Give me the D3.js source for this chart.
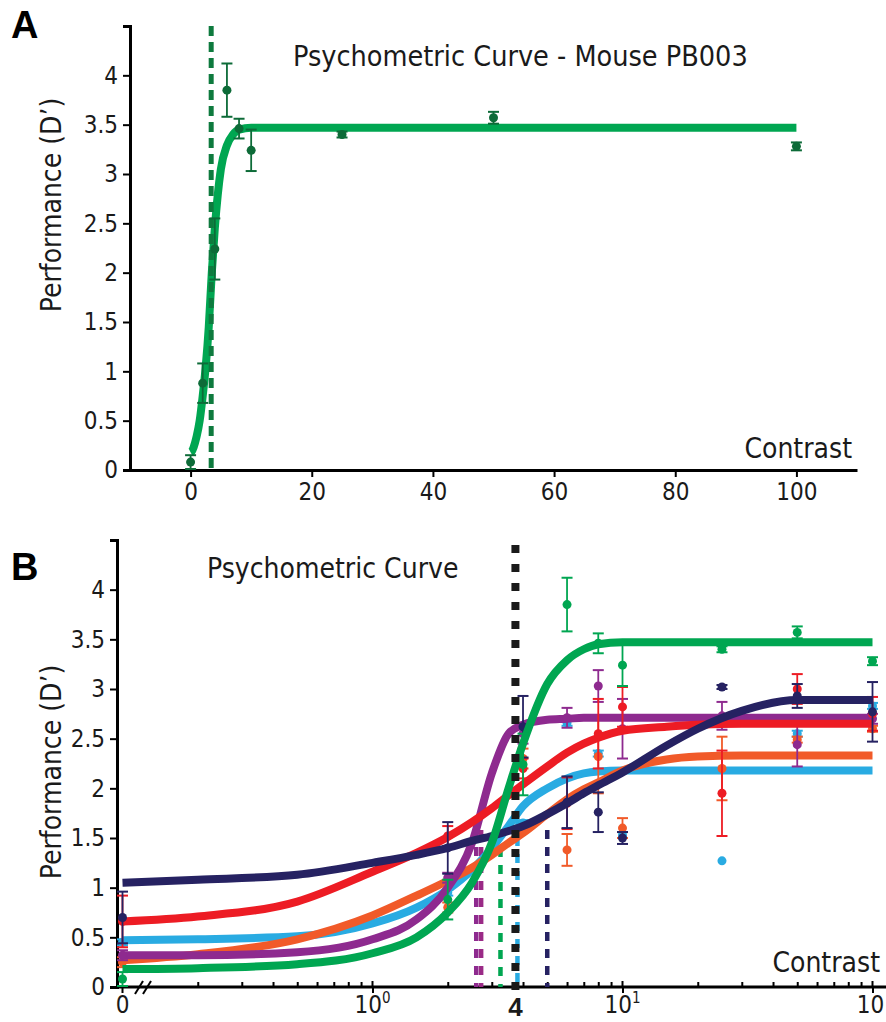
<!DOCTYPE html>
<html>
<head>
<meta charset="utf-8">
<script src="https://cdn.jsdelivr.net/npm/d3@7"></script>
<style>
  body { margin: 0; background: #fff; }
  svg { display: block; }
</style>
</head>
<body>
<svg id="fig" width="886" height="1022"></svg>
<script>
// ---------------- data ----------------
// contrast levels tested (%); 0 is drawn at the left end of the broken log axis
const contrasts = [0, 2, 4, 6, 8, 10, 25, 50, 100];

// mouse PB003 (panel A, green in panel B): mean d' and error
const greenMean = [0.08, 0.88, 2.24, 3.85, 3.46, 3.24, 3.40, 3.57, 3.28];
const greenErr  = [0.07, 0.20, 0.31, 0.27, 0.10, 0.21, 0.03, 0.06, 0.04];

const navyMean   = [0.70, 1.40, 2.62, 1.86, 1.76, 1.50, 3.02, 2.93, 2.77];
const navyErr    = [0.26, 0.26, 0.31, 0.26, 0.20, 0.06, 0.02, 0.12, 0.30];
const redMean    = [0.66, 1.52, 2.20, 1.85, 2.55, 2.82, 1.95, 3.00, 2.75];
const redErr     = [0.26, 0.10, 0.10, 0.26, 0.35, 0.20, 0.43, 0.15, 0.17];
const orangeMean = [0.25, 0.80, 2.30, 1.38, 2.32, 1.60, 2.20, 2.49, 2.60];
const orangeErr  = [0.05, 0.05, 0.10, 0.16, 0.37, 0.10, 0.32, 0.03, 0.03];
const cyanMean   = [0.45, 0.95, 1.65, 2.66, 2.35, 1.53, 1.27, 2.55, 2.83];
const cyanErr    = [0.03, 0.03, 0.03, 0.03, 0.03, 0.03, 0.00, 0.03, 0.03];
const purpleMean = [0.32, 1.10, 2.55, 2.71, 3.03, 2.60, 2.73, 2.44, 2.70];
const purpleErr  = [0.05, 0.05, 0.10, 0.10, 0.16, 0.30, 0.14, 0.22, 0.05];

// fitted psychometric curves, sampled along contrast
const fitContrast = [0, 0.2, 0.5, 1, 1.5, 2, 2.5, 3, 3.5, 4, 5, 6, 7, 8, 10, 15, 20, 30, 50, 100];
const fitGreen  = [0.18, 0.19, 0.23, 0.34, 0.50, 0.75, 1.05, 1.45, 2.00, 2.45, 3.05, 3.29, 3.40, 3.45, 3.47, 3.47, 3.47, 3.47, 3.47, 3.47];
const fitNavy   = [1.05, 1.08, 1.13, 1.25, 1.33, 1.40, 1.47, 1.52, 1.57, 1.62, 1.74, 1.85, 1.95, 2.03, 2.16, 2.43, 2.60, 2.78, 2.89, 2.89];
const fitRed    = [0.66, 0.71, 0.86, 1.16, 1.35, 1.51, 1.66, 1.80, 1.93, 2.04, 2.22, 2.36, 2.45, 2.51, 2.58, 2.62, 2.64, 2.65, 2.65, 2.65];
const fitOrange = [0.27, 0.33, 0.48, 0.72, 0.92, 1.07, 1.20, 1.33, 1.45, 1.55, 1.74, 1.89, 1.99, 2.06, 2.18, 2.29, 2.32, 2.33, 2.33, 2.33];
const fitCyan   = [0.47, 0.48, 0.51, 0.64, 0.80, 0.98, 1.18, 1.40, 1.62, 1.82, 2.00, 2.10, 2.15, 2.17, 2.18, 2.18, 2.18, 2.18, 2.18, 2.18];
const fitPurple = [0.32, 0.32, 0.35, 0.48, 0.68, 1.00, 1.45, 2.15, 2.55, 2.64, 2.69, 2.70, 2.71, 2.71, 2.71, 2.71, 2.71, 2.71, 2.71, 2.71];

// contrast thresholds (dashed markers) and the d' height of each marker
const pb003Threshold = 3.4;
const thresholdContrast = [2.6, 2.72, 3.25, 3.8, 5.0];
const thresholdTop      = [1.58, 1.58, 1.40, 1.68, 1.58];
const thresholdColor    = ["#8e2a8f", "#9a2a86", "#00a651", "#29abe2", "#262262"];
// group mean threshold, labelled rounded to the nearest whole contrast
const meanThreshold = 3.73;

// axis ticks
const yTicks = [0, 0.5, 1, 1.5, 2, 2.5, 3, 3.5, 4];
const xTicksA = [0, 20, 40, 60, 80, 100];
const decadeTicks = [1, 10, 100];
const decadeExp = ["0", "1", ""];

// ---------------- drawing ----------------
const FONT = '"DejaVu Sans Condensed","Liberation Sans",Arial,sans-serif';
const svg = d3.select("#fig").style("font-family", FONT);

function styleAxis(g) {
  g.select(".domain").attr("stroke", "#000").attr("stroke-width", 3);
  g.selectAll(".tick line").attr("stroke", "#000").attr("stroke-width", 2);
  g.selectAll(".tick text").attr("fill", "#1a1a1a").style("font-size", "24px").style("font-family", FONT);
}

function errorBar(g, x, y, yLo, yHi, color, r, capW) {
  if (Math.abs(yHi - yLo) > 1) {
    g.append("line").attr("x1", x).attr("x2", x).attr("y1", yLo).attr("y2", yHi)
      .attr("stroke", color).attr("stroke-width", 1.8);
    [yLo, yHi].forEach(v => g.append("line").attr("x1", x - capW / 2).attr("x2", x + capW / 2)
      .attr("y1", v).attr("y2", v).attr("stroke", color).attr("stroke-width", 2));
  }
  g.append("circle").attr("cx", x).attr("cy", y).attr("r", r).attr("fill", color);
}

// ===== Panel A =====
const xA = d3.scaleLinear().domain([-10, 110]).range([130, 857]);
const yA = d3.scaleLinear().domain([0, 4.5]).range([470, 26]);
const gA = svg.append("g");

gA.append("g").attr("transform", "translate(0,470)")
  .call(d3.axisBottom(xA).tickValues(xTicksA).tickSize(7).tickSizeOuter(0).tickPadding(6))
  .call(styleAxis);
gA.append("g").attr("transform", "translate(130,0)")
  .call(d3.axisLeft(yA).tickValues(yTicks).tickSize(7).tickSizeOuter(7).tickPadding(5).tickFormat(d3.format("~g")))
  .call(styleAxis);

const lineA = d3.line().x(d => xA(d[0])).y(d => yA(d[1])).curve(d3.curveMonotoneX);
gA.append("path").datum(fitContrast.map((c, i) => [c, fitGreen[i]]))
  .attr("d", lineA).attr("fill", "none").attr("stroke", "#00a651").attr("stroke-width", 8);

gA.append("line").attr("x1", xA(pb003Threshold)).attr("x2", xA(pb003Threshold))
  .attr("y1", yA(4.5)).attr("y2", yA(0))
  .attr("stroke", "#0e7a3e").attr("stroke-width", 5).attr("stroke-dasharray", "10,6");

contrasts.forEach((c, i) => {
  errorBar(gA, xA(c), yA(greenMean[i]), yA(greenMean[i] - greenErr[i]), yA(greenMean[i] + greenErr[i]), "#0d6b38", 4.5, 11);
});

gA.append("text").attr("x", 293).attr("y", 66).style("font-size", "28.5px").attr("fill", "#1a1a1a")
  .text("Psychometric Curve - Mouse PB003");
gA.append("text").attr("x", 852).attr("y", 458).attr("text-anchor", "end").style("font-size", "28px").attr("fill", "#1a1a1a")
  .text("Contrast");
gA.append("text").attr("transform", "translate(61,205) rotate(-90)").attr("text-anchor", "middle")
  .style("font-size", "28px").attr("fill", "#1a1a1a").text("Performance (D\u2019)");
svg.append("text").attr("x", 11).attr("y", 38).style("font-family", '"Liberation Sans",Arial,sans-serif')
  .style("font-weight", "bold").style("font-size", "38px").text("A");

// ===== Panel B =====
const xB = d3.scaleLog().domain([0.1, 100]).range([122.5, 872.5]);
const bx = c => xB(c === 0 ? 0.1 : c);
const yB = d3.scaleLinear().domain([0, 4.5]).range([987, 540]);
const gB = svg.append("g");

// x axis: line with a break after 0, decade labels and minor ticks
gB.append("line").attr("x1", 116).attr("x2", 886).attr("y1", 987).attr("y2", 987)
  .attr("stroke", "#000").attr("stroke-width", 3);
[139, 147].forEach(x => gB.append("line").attr("x1", x - 4).attr("x2", x + 4)
  .attr("y1", 994).attr("y2", 981).attr("stroke", "#000").attr("stroke-width", 2));
const minor = [];
[0.1, 1, 10].forEach(d => { for (let k = 2; k <= 9; k++) minor.push(d * k); });
gB.append("g").attr("transform", "translate(0,987)")
  .call(d3.axisBottom(xB).tickValues(minor).tickSize(-5).tickSizeOuter(0).tickFormat(""))
  .call(g => g.select(".domain").remove())
  .call(styleAxis);
gB.append("g").attr("transform", "translate(0,987)")
  .call(d3.axisBottom(xB).tickValues(decadeTicks).tickSize(6).tickSizeOuter(0).tickFormat(""))
  .call(g => g.select(".domain").remove())
  .call(styleAxis);
decadeTicks.forEach((d, i) => {
  gB.append("line").attr("x1", xB(d)).attr("x2", xB(d)).attr("y1", 981).attr("y2", 987)
    .attr("stroke", "#000").attr("stroke-width", 2);
  const t = gB.append("text").attr("x", xB(d) - (decadeExp[i] ? 0 : 2)).attr("y", 1013)
    .attr("text-anchor", "middle").style("font-size", "24px").attr("fill", "#1a1a1a");
  t.append("tspan").text("10");
  if (decadeExp[i]) t.append("tspan").attr("dy", -10).style("font-size", "15px").text(decadeExp[i]);
});
gB.append("line").attr("x1", bx(0)).attr("x2", bx(0)).attr("y1", 987).attr("y2", 993)
  .attr("stroke", "#000").attr("stroke-width", 2);
gB.append("text").attr("x", bx(0)).attr("y", 1013).attr("text-anchor", "middle")
  .style("font-size", "24px").attr("fill", "#1a1a1a").text("0");

gB.append("g").attr("transform", "translate(117,0)")
  .call(d3.axisLeft(yB).tickValues(yTicks).tickSize(7).tickSizeOuter(7).tickPadding(5).tickFormat(d3.format("~g")))
  .call(styleAxis);

// individual thresholds
thresholdContrast.forEach((c, i) => {
  gB.append("line").attr("x1", xB(c)).attr("x2", xB(c)).attr("y1", yB(thresholdTop[i])).attr("y2", 987)
    .attr("stroke", thresholdColor[i]).attr("stroke-width", 4.5).attr("stroke-dasharray", "9,8");
});

// mice: curve then data points
const lineB = d3.line().x(d => bx(d[0])).y(d => yB(d[1])).curve(d3.curveMonotoneX);
const mice = [
  { color: "#29abe2", fit: fitCyan,   mean: cyanMean,   err: cyanErr },
  { color: "#f15a29", fit: fitOrange, mean: orangeMean, err: orangeErr },
  { color: "#8e2a8f", fit: fitPurple, mean: purpleMean, err: purpleErr },
  { color: "#ed1c24", fit: fitRed,    mean: redMean,    err: redErr },
  { color: "#262262", fit: fitNavy,   mean: navyMean,   err: navyErr },
  { color: "#00a651", fit: fitGreen,  mean: greenMean,  err: greenErr }
];
mice.forEach(m => {
  const g = gB.append("g");
  g.append("path").datum(fitContrast.map((c, i) => [c, m.fit[i]]))
    .attr("d", lineB).attr("fill", "none").attr("stroke", m.color).attr("stroke-width", 8);
  contrasts.forEach((c, i) => {
    errorBar(g, bx(c), yB(m.mean[i]), yB(m.mean[i] - m.err[i]), yB(m.mean[i] + m.err[i]), m.color, 4.5, 11);
  });
});

// group mean threshold
gB.append("line").attr("x1", xB(meanThreshold)).attr("x2", xB(meanThreshold))
  .attr("y1", 545).attr("y2", 990)
  .attr("stroke", "#1a1a1a").attr("stroke-width", 8).attr("stroke-dasharray", "8,11");
gB.append("text").attr("x", xB(meanThreshold)).attr("y", 1016).attr("text-anchor", "middle")
  .style("font-family", '"Liberation Sans",Arial,sans-serif').style("font-weight", "bold")
  .style("font-size", "26px").attr("fill", "#1a1a1a").text(d3.format(".0f")(meanThreshold));

gB.append("text").attr("x", 207).attr("y", 578).style("font-size", "28px").attr("fill", "#1a1a1a")
  .text("Psychometric Curve");
gB.append("text").attr("x", 880).attr("y", 972).attr("text-anchor", "end").style("font-size", "28px").attr("fill", "#1a1a1a")
  .text("Contrast");
gB.append("text").attr("transform", "translate(61,772) rotate(-90)").attr("text-anchor", "middle")
  .style("font-size", "28px").attr("fill", "#1a1a1a").text("Performance (D\u2019)");
svg.append("text").attr("x", 11).attr("y", 580).style("font-family", '"Liberation Sans",Arial,sans-serif')
  .style("font-weight", "bold").style("font-size", "38px").text("B");
</script>
</body>
</html>
